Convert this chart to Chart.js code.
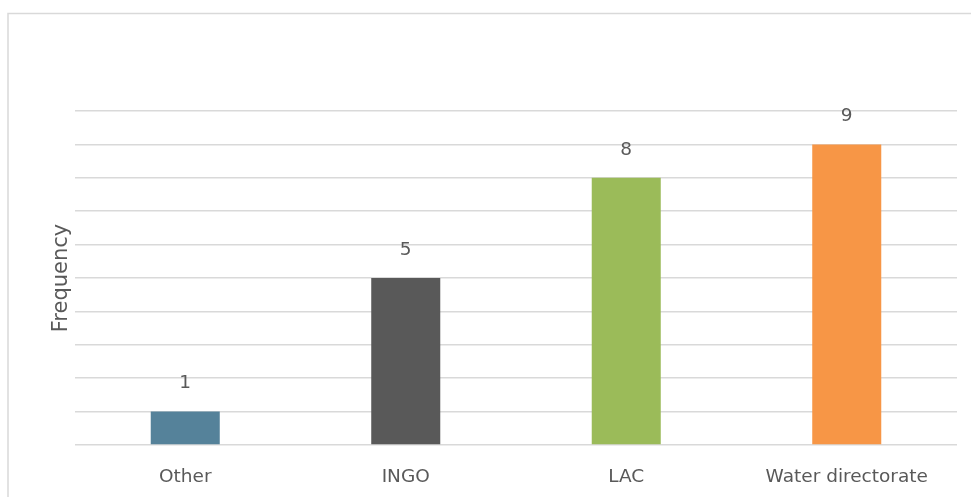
<!DOCTYPE html>
<html>
<head>
<meta charset="utf-8">
<script src="https://cdn.jsdelivr.net/npm/chart.js@4.4.1/dist/chart.umd.min.js"></script>
<style>
  html, body { margin: 0; padding: 0; background: #ffffff; }
  #wrap { width: 971px; height: 497px; position: relative; }
</style>
</head>
<body>
<div id="wrap"><canvas id="chart" width="971" height="497"></canvas></div>
<script>
// Respondent organisations and how often each was named
const categories = ['Other', 'INGO', 'LAC', 'Water directorate'];
const frequency = [1, 5, 8, 9];
const barColors = ['#55829A', '#595959', '#9BBB59', '#F79646'];
const yTitle = 'Frequency';

const FONT = "'DejaVu Sans', 'Open Sans', sans-serif";
const TEXT = '#595959';
const GRID = '#D9D9D9';

// Outer frame of the chart box
const framePlugin = {
  id: 'frame',
  beforeDraw(chart) {
    const ctx = chart.ctx;
    ctx.save();
    ctx.strokeStyle = GRID;
    ctx.lineWidth = 1.5;
    ctx.beginPath();
    ctx.moveTo(8, 600);
    ctx.lineTo(8, 13.5);
    ctx.lineTo(1200, 13.5);
    ctx.stroke();
    ctx.restore();
  }
};

// Value printed above each bar
const valueLabels = {
  id: 'valueLabels',
  afterDatasetsDraw(chart) {
    const ctx = chart.ctx;
    const meta = chart.getDatasetMeta(0);
    ctx.save();
    ctx.font = '18.5px ' + FONT;
    ctx.fillStyle = TEXT;
    ctx.textAlign = 'center';
    ctx.textBaseline = 'middle';
    meta.data.forEach((bar, i) => {
      ctx.fillText(String(chart.data.datasets[0].data[i]), bar.x, bar.y - 28);
    });
    ctx.restore();
  }
};

new Chart(document.getElementById('chart'), {
  type: 'bar',
  data: {
    labels: categories,
    datasets: [{
      data: frequency,
      backgroundColor: barColors,
      borderWidth: 0,
      barPercentage: 0.313,
      categoryPercentage: 1.0
    }]
  },
  options: {
    responsive: false,
    animation: false,
    devicePixelRatio: 1,
    layout: { padding: { top: 111, right: 14, left: 0, bottom: 0 } },
    plugins: {
      legend: { display: false },
      tooltip: { enabled: false }
    },
    scales: {
      x: {
        grid: { display: false },
        border: { display: false },
        ticks: {
          color: TEXT,
          font: { family: FONT, size: 18.5 },
          padding: 13,
          maxRotation: 0
        },
        afterFit(scale) { scale.height = 52; }
      },
      y: {
        min: 0,
        max: 10,
        ticks: { display: false, stepSize: 1 },
        grid: { color: GRID, lineWidth: 1.5, drawTicks: false },
        border: { display: false },
        title: {
          display: true,
          text: yTitle,
          color: TEXT,
          font: { family: FONT, size: 21 },
          padding: { top: 49, bottom: 0 }
        },
        afterFit(scale) { scale.width = 75; }
      }
    }
  },
  plugins: [framePlugin, valueLabels]
});
</script>
</body>
</html>
